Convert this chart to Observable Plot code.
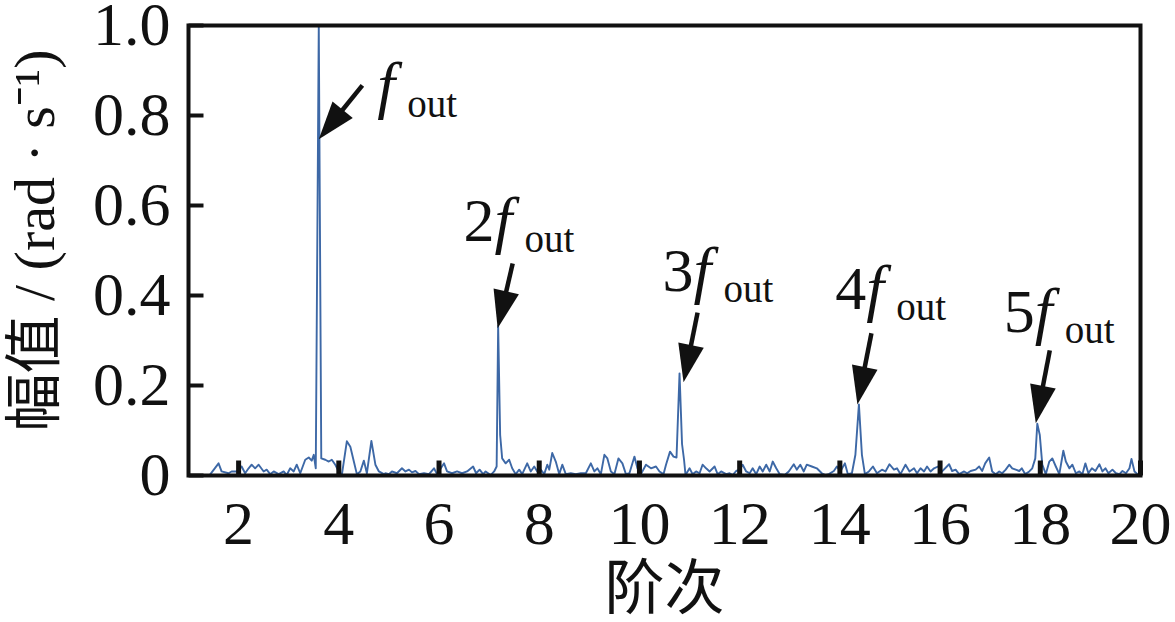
<!DOCTYPE html>
<html>
<head>
<meta charset="utf-8">
<script src="https://cdn.jsdelivr.net/npm/d3@7"></script>
<script src="https://cdn.jsdelivr.net/npm/@observablehq/plot@0.6"></script>
<style>
  html, body { margin: 0; padding: 0; background: #fff; }
</style>
</head>
<body>
<div id="chart"></div>
<script>
// ---- data ----
const order = [
  1.43,1.60,1.66,1.80,1.86,1.96,2.06,2.13,2.20,2.26,2.33,2.40,2.50,2.56,2.63,2.70,2.80,2.90,2.96,3.03,3.10,3.16,3.23,3.33,3.40,3.46,3.50,3.54,3.60,3.65,3.73,3.80,3.86,3.93,4.00,4.06,4.16,4.23,4.30,4.36,4.43,4.50,4.56,4.65,4.73,4.80,4.90,
  4.93,5.00,5.06,5.16,5.26,5.33,5.40,5.46,5.53,5.60,5.70,5.80,5.90,5.96,6.10,6.16,6.26,6.36,6.46,6.56,6.68,6.74,6.81,6.88,6.93,7.03,7.10,7.15,7.18,7.22,7.26,7.33,7.40,7.46,7.53,7.60,7.66,7.76,7.83,7.90,7.96,8.03,8.10,8.16,8.20,8.26,8.33,8.40,8.46,8.53,8.63,8.73,8.83,
  8.93,9.03,9.10,9.16,9.23,9.30,9.36,9.43,9.50,9.58,9.66,9.73,9.80,9.90,9.96,10.03,10.13,10.23,10.33,10.40,10.48,10.53,10.61,10.68,10.74,10.80,10.85,10.89,10.92,11.00,11.06,11.13,11.20,11.26,11.33,11.40,11.50,11.56,11.63,11.73,11.80,11.86,11.93,12.00,12.06,12.13,12.20,12.26,12.33,12.40,12.46,12.53,12.60,12.66,12.73,12.80,12.90,
  12.98,13.08,13.14,13.21,13.28,13.34,13.44,13.54,13.64,13.71,13.78,13.88,13.94,14.01,14.10,14.16,14.24,14.31,14.38,14.44,14.50,14.58,14.66,14.74,14.84,14.91,14.99,15.08,15.14,15.21,15.31,15.39,15.48,15.54,15.61,15.68,15.74,15.81,15.88,15.96,16.04,16.18,16.24,16.31,16.38,16.48,16.54,16.61,16.71,16.78,16.84,16.90,
  16.98,17.04,17.11,17.18,17.24,17.31,17.38,17.44,17.51,17.58,17.63,17.70,17.78,17.84,17.90,17.94,17.99,18.04,18.11,18.18,18.24,18.31,18.38,18.46,18.51,18.58,18.64,18.71,18.78,18.84,18.90,18.96,19.03,19.10,19.18,19.24,19.30,19.36,19.44,19.51,19.58,19.64,19.71,19.78,19.82,19.88,19.94
];
const amplitude = [
  .002,.027,.009,.005,.009,.009,.020,.005,.016,.024,.016,.024,.009,.013,.003,.009,.003,.009,.001,.016,.009,.024,.005,.035,.040,.033,.046,.016,1.000,.038,.035,.031,.035,.024,.009,.001,.076,.064,.031,.003,.009,.033,.005,.077,.024,.009,.003,
  .005,.003,.009,.005,.016,.009,.013,.007,.010,.003,.005,.003,.016,.003,.027,.009,.005,.009,.005,.009,.020,.005,.013,.003,.009,.001,.009,.020,.333,.090,.038,.027,.035,.016,.003,.013,.003,.027,.009,.020,.009,.013,.003,.024,.013,.050,.031,.003,.024,.003,.005,.003,.005,
  .005,.027,.009,.016,.003,.046,.038,.009,.003,.038,.027,.003,.005,.042,.016,.003,.024,.016,.020,.009,.003,.024,.053,.042,.040,.227,.070,.035,.001,.016,.003,.009,.005,.024,.016,.009,.020,.003,.009,.003,.005,.001,.010,.013,.024,.009,.005,.016,.003,.020,.009,.024,.009,.031,.016,.003,.001,
  .009,.025,.013,.024,.009,.024,.020,.016,.005,.001,.003,.010,.020,.009,.027,.003,.005,.046,.158,.046,.003,.009,.020,.005,.013,.009,.025,.013,.016,.003,.024,.009,.016,.005,.016,.009,.020,.009,.016,.020,.009,.025,.010,.013,.003,.009,.005,.010,.013,.020,.010,.027,
  .040,.009,.003,.009,.005,.013,.024,.016,.013,.010,.016,.003,.009,.016,.038,.115,.090,.024,.003,.031,.038,.020,.003,.055,.031,.016,.024,.005,.009,.003,.027,.005,.016,.010,.025,.009,.016,.005,.013,.005,.003,.010,.005,.016,.037,.009,.003
];
const xTicks = [2, 4, 6, 8, 10, 12, 14, 16, 18, 20];
const yTicks = [0, 0.2, 0.4, 0.6, 0.8, 1.0];
const xDomain = [1, 20];
const yDomain = [0, 1];
const xLabel = "阶次";
const yLabel = "幅值 / (rad · s⁻¹)";

// annotation labels: prefix number, anchor (baseline-left) in data units
const labelPrefix = ["", "2", "3", "4", "5"];
const labelX = [4.15, 6.49, 10.46, 13.91, 17.27];
const labelY = [0.822, 0.522, 0.411, 0.371, 0.318];
// arrows: start -> tip, in data units
const arrowX1 = [4.47, 7.47, 11.16, 14.63, 18.19];
const arrowY1 = [0.867, 0.471, 0.362, 0.316, 0.278];
const arrowX2 = [3.60, 7.17, 10.88, 14.35, 17.91];
const arrowY2 = [0.747, 0.327, 0.207, 0.158, 0.116];

// ---- layout ----
const W = 1175, H = 622, mL = 188, mR = 35, mT = 25, mB = 147;
const kx = (W - mL - mR) / (xDomain[1] - xDomain[0]);
const ky = (H - mT - mB) / (yDomain[1] - yDomain[0]);
const tickLen = 15; // inward tick length in px
const serif = "'Liberation Serif', 'Times New Roman', 'Noto Sans CJK SC', serif";
const ink = "#111";

const spectrum = order.map((x, i) => ({order: x, amp: amplitude[i]}));
const labels = labelPrefix.map((p, i) => ({prefix: p, x: labelX[i], y: labelY[i]}));
const xTickMarks = xTicks.map(v => ({x: v, y1: yDomain[0], y2: yDomain[0] + tickLen / ky}));
const yTickMarks = yTicks.map(v => ({y: v, x1: xDomain[0], x2: xDomain[0] + tickLen / kx}));
const arrows = arrowX1.map((x1, i) => {
  const y1 = arrowY1[i], x2 = arrowX2[i], y2 = arrowY2[i];
  const px = (x2 - x1) * kx, py = -(y2 - y1) * ky;
  const len = Math.hypot(px, py);
  const ux = px / len, uy = py / len;
  return {x1, y1, x2, y2,
    xs: x2 - ux * 20 / kx, ys: y2 + uy * 20 / ky,
    angle: Math.atan2(ux, -uy) * 180 / Math.PI};
});

// filled arrowhead with its tip at the origin, pointing up
const headSymbol = {
  draw(ctx) {
    const L = 38, Wd = 26;
    ctx.moveTo(0, 0);
    ctx.lineTo(Wd / 2, L);
    ctx.lineTo(-Wd / 2, L);
    ctx.closePath();
  }
};

const chart = Plot.plot({
  width: W, height: H,
  marginLeft: mL, marginRight: mR, marginTop: mT, marginBottom: mB,
  style: {fontFamily: serif, color: ink, background: "#fff", overflow: "visible"},
  x: {domain: xDomain},
  y: {domain: yDomain},
  marks: [
    Plot.line(spectrum, {x: "order", y: "amp", stroke: "#3d68a6", strokeWidth: 1.9, strokeLinejoin: "round"}),
    Plot.axisX({ticks: xTicks, tickSize: 0, tickPadding: 24, fontSize: 62, tickFormat: d => String(d), label: null, fill: ink}),
    Plot.axisY({ticks: yTicks, tickSize: 0, tickPadding: 18, fontSize: 62, tickFormat: d => d === 0 ? "0" : d.toFixed(1), label: null, fill: ink}),
    // inward tick marks
    Plot.link(xTickMarks, {x1: "x", x2: "x", y1: "y1", y2: "y2", stroke: ink, strokeWidth: 5}),
    Plot.link(yTickMarks, {x1: "x1", x2: "x2", y1: "y", y2: "y", stroke: ink, strokeWidth: 4}),
    Plot.frame({stroke: ink, strokeWidth: 4}),
    Plot.text([xLabel], {text: d => d, frameAnchor: "bottom", textAnchor: "middle", dy: 114, lineAnchor: "middle", fontSize: 60, fill: ink}),
    Plot.text([yLabel], {text: d => d, frameAnchor: "left", textAnchor: "middle", rotate: -90, dx: -153, dy: -10, lineAnchor: "middle", fontSize: 58, fill: ink}),
    Plot.link(arrows, {x1: "x1", y1: "y1", x2: "xs", y2: "ys", stroke: ink, strokeWidth: 4.5}),
    Plot.dot(arrows, {x: "x2", y: "y2", symbol: headSymbol, r: 10, rotate: "angle", fill: ink, stroke: "none"}),
    Plot.text(labels, {x: "x", y: "y", text: "prefix", textAnchor: "start", lineAnchor: "bottom", fontSize: 62, fill: ink}),
    Plot.text(labels, {x: "x", y: "y", text: () => "f", textAnchor: "start", lineAnchor: "bottom", fontSize: 64, fontStyle: "italic", dx: 31, fill: ink}),
    Plot.text(labels, {x: "x", y: "y", text: () => "out", textAnchor: "start", lineAnchor: "bottom", fontSize: 39, dx: 61, dy: 11, fill: ink})
  ]
});
document.getElementById("chart").appendChild(chart);
</script>
</body>
</html>
